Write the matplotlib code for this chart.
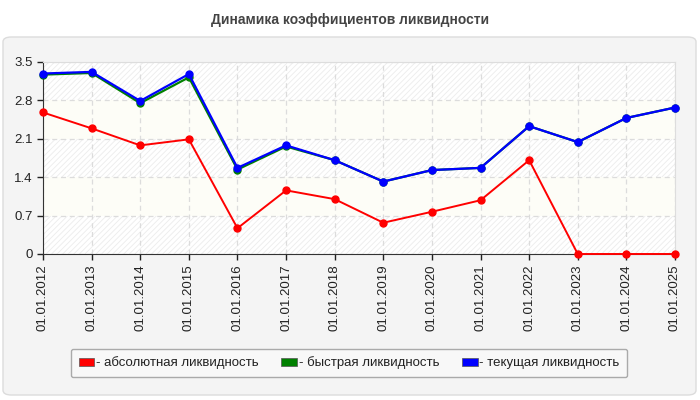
import matplotlib
matplotlib.use("Agg")
import matplotlib.pyplot as plt
from matplotlib.patches import FancyBboxPatch, Patch

plt.rcParams['font.family'] = ['Liberation Sans', 'DejaVu Sans']
plt.rcParams['hatch.color'] = '#e6e6e6'
plt.rcParams['hatch.linewidth'] = 0.6

# data
dates = ['01.01.2012', '01.01.2013', '01.01.2014', '01.01.2015', '01.01.2016',
         '01.01.2017', '01.01.2018', '01.01.2019', '01.01.2020', '01.01.2021',
         '01.01.2022', '01.01.2023', '01.01.2024', '01.01.2025']
absolute = [2.58, 2.29, 1.98, 2.09, 0.47, 1.16, 1.00, 0.57, 0.77, 0.98, 1.71, 0.0, 0.0, 0.0]
quick = [3.27, 3.30, 2.75, 3.22, 1.54, 1.96, 1.71, 1.32, 1.53, 1.57, 2.33, 2.04, 2.48, 2.67]
current = [3.29, 3.32, 2.79, 3.28, 1.57, 1.98, 1.71, 1.32, 1.53, 1.57, 2.33, 2.04, 2.48, 2.67]
labels = ['- абсолютная ликвидность', '- быстрая ликвидность', '- текущая ликвидность']
colors = ['#ff0000', '#008000', '#0000ff']
yticks = [0, 0.7, 1.4, 2.1, 2.8, 3.5]

fig = plt.figure(figsize=(7, 4), dpi=100)
fig.patch.set_facecolor('white')

# rounded grey panel behind everything
panel = FancyBboxPatch((3 / 700, 5 / 400), 693 / 700, 358 / 400,
                       boxstyle='round,pad=0,rounding_size=0.012',
                       transform=fig.transFigure, facecolor='#f4f4f4',
                       edgecolor='#dcdcdc', linewidth=1, zorder=-5)
fig.patches.append(panel)

fig.text(0.5, 1 - 20 / 400, 'Динамика коэффициентов ликвидности', ha='center', va='center',
         fontsize=10, fontweight='bold', color='#444444')

ax = fig.add_axes([43 / 700, 146 / 400, 632 / 700, 192 / 400])
ax.set_facecolor('white')
x = list(range(len(dates)))

# alternating hatched / plain bands
for i in range(len(yticks) - 1):
    if i % 2 == 0:
        ax.axhspan(yticks[i], yticks[i + 1], facecolor='white', hatch='//////',
                   edgecolor='#ececec', linewidth=0, zorder=0)
    else:
        ax.axhspan(yticks[i], yticks[i + 1], facecolor='#fdfdf7', linewidth=0, zorder=0)

ax.plot(x, absolute, color=colors[0], lw=1.4, marker='o', ms=5, zorder=3, clip_on=False)
ax.plot(x, quick, color=colors[1], lw=1.6, marker='o', ms=5, zorder=4, clip_on=False)
ax.plot(x, current, color=colors[2], lw=1.6, marker='o', ms=5, zorder=5, clip_on=False)

ax.set_xlim(0, len(dates) - 1)
ax.set_ylim(0, 3.5)
ax.set_yticks(yticks)
ax.set_yticklabels(['0', '0.7', '1.4', '2.1', '2.8', '3.5'])
ax.set_xticks(x)
ax.set_xticklabels(dates, rotation=90)
ax.tick_params(labelsize=9.5, colors='#222222', length=4, width=1)
ax.grid(True, color='#dcdcdc', linestyle=(0, (4, 3)), linewidth=0.9)
ax.set_axisbelow(True)
for s in ['top', 'right']:
    ax.spines[s].set_color('#dddddd')
for s in ['left', 'bottom']:
    ax.spines[s].set_color('#333333')

handles = [Patch(facecolor=c, edgecolor='#555555', linewidth=0.5) for c in colors]
leg = fig.legend(handles, labels, loc='center', ncol=3, mode='expand',
                 bbox_to_anchor=(64 / 700, 18 / 400, 570 / 700, 38 / 400),
                 fontsize=9.5, frameon=True, fancybox=True, handlelength=1.2,
                 handleheight=0.6, handletextpad=0.1, borderpad=0.6)
leg.get_frame().set_facecolor('#f8f8f8')
leg.get_frame().set_edgecolor('#aaaaaa')
leg.get_frame().set_alpha(1)
for t in leg.get_texts():
    t.set_color('#222222')

fig.savefig('out.png', dpi=100, facecolor=fig.get_facecolor())
